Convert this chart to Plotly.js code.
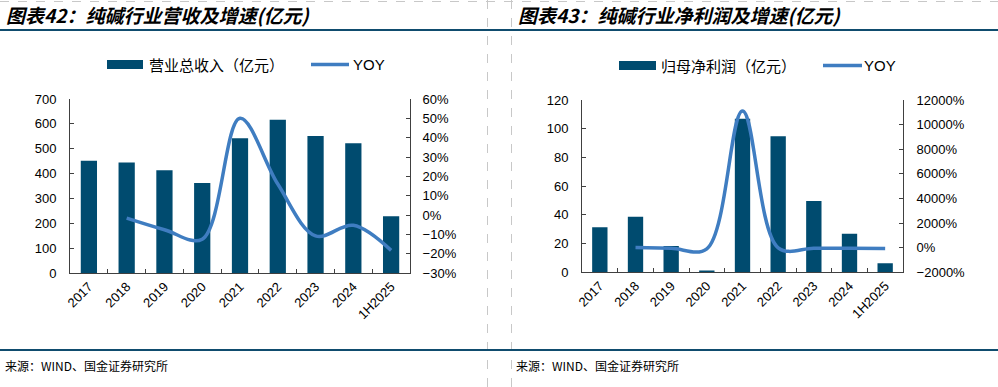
<!DOCTYPE html>
<html>
<head>
<meta charset="utf-8">
<script src="https://cdn.plot.ly/plotly-3.0.1.min.js"></script>
<style>
html,body{margin:0;padding:0;background:#fff;}
#chart{width:998px;height:387px;}
</style>
</head>
<body>
<div id="chart"></div>
<script>
// ---- data ----
const years = ['2017','2018','2019','2020','2021','2022','2023','2024','1H2025'];
const revenue = [452, 445, 413, 362, 542, 617, 551, 522, 228];          // 营业总收入（亿元）
const revenueYoy = [null, -1.6, -7.6, -12.5, 50, 16, -10.8, -5.3, -18.3]; // YOY %
const profit = [31.3, 38.7, 18.3, 1.2, 107, 94.7, 49.7, 26.9, 6.3];      // 归母净利润（亿元）
const profitYoy = [null, 24, -53, -93, 11100, -11.5, -47.5, -46, -76];    // YOY %

const titleLeft = '图表42：纯碱行业营收及增速(亿元)';
const titleRight = '图表43：纯碱行业净利润及增速(亿元)';
const legendBarLeft = '营业总收入（亿元）';
const legendBarRight = '归母净利润（亿元）';
const legendLine = 'YOY';
const sourceText = '来源：WIND、国金证券研究所';

// ---- styling ----
const W = 998, H = 387;
const px = x => x / W;
const py = y => 1 - y / H;
const barColor = '#004B6F';
const lineColor = '#3F7DC1';
const axisColor = '#404040';
const tickFont = {family: 'Liberation Sans, Arial, sans-serif', size: 13, color: '#000'};
const cjk = 'Noto Sans CJK SC, sans-serif';

const traces = [
  {type: 'bar', x: years, y: revenue, xaxis: 'x', yaxis: 'y', marker: {color: barColor}, showlegend: false, hoverinfo: 'skip'},
  {type: 'scatter', mode: 'lines', x: years, y: revenueYoy, xaxis: 'x', yaxis: 'y2',
   line: {color: lineColor, width: 3.5, shape: 'spline', smoothing: 1}, showlegend: false, hoverinfo: 'skip'},
  {type: 'bar', x: years, y: profit, xaxis: 'x2', yaxis: 'y3', marker: {color: barColor}, showlegend: false, hoverinfo: 'skip'},
  {type: 'scatter', mode: 'lines', x: years, y: profitYoy, xaxis: 'x2', yaxis: 'y4',
   line: {color: lineColor, width: 3.5, shape: 'spline', smoothing: 1}, showlegend: false, hoverinfo: 'skip'}
];

const baseAxis = {
  showgrid: false, zeroline: false, showline: true, linecolor: axisColor, linewidth: 1,
  ticks: 'inside', ticklen: 4, tickcolor: axisColor, tickfont: tickFont, fixedrange: true
};

const xBase = Object.assign({}, baseAxis, {type: 'category', tickangle: -45, tickson: 'boundaries'});

const layout = {
  width: W, height: H,
  margin: {l: 0, r: 0, t: 0, b: 0},
  paper_bgcolor: '#fff', plot_bgcolor: 'rgba(0,0,0,0)',
  bargap: 0.57,
  showlegend: false,
  xaxis: Object.assign({}, xBase, {domain: [px(70), px(410)], anchor: 'y'}),
  yaxis: Object.assign({}, baseAxis, {domain: [py(273), py(99)], anchor: 'x', range: [0, 700], dtick: 100, ticklabelstandoff: 10}),
  yaxis2: Object.assign({}, baseAxis, {overlaying: 'y', side: 'right', anchor: 'x', range: [-30, 60], dtick: 10, ticksuffix: '%', ticklabelstandoff: 9}),
  xaxis2: Object.assign({}, xBase, {domain: [px(582), px(903)], anchor: 'y3'}),
  yaxis3: Object.assign({}, baseAxis, {domain: [py(272.3), py(100)], anchor: 'x2', range: [0, 120], dtick: 20, ticklabelstandoff: 10}),
  yaxis4: Object.assign({}, baseAxis, {overlaying: 'y3', side: 'right', anchor: 'x2', range: [-2000, 12000], dtick: 2000, tickformat: 'd', ticksuffix: '%', ticklabelstandoff: 10}),
  shapes: [
    {type: 'line', xref: 'paper', yref: 'paper', x0: 0, x1: 1, y0: py(1.5), y1: py(1.5), line: {color: '#C8C8C8', width: 1, dash: 'dash'}},
    {type: 'line', xref: 'paper', yref: 'paper', x0: px(487.5), x1: px(487.5), y0: 0, y1: 1, line: {color: '#C8C8C8', width: 1, dash: 'dash'}},
    {type: 'line', xref: 'paper', yref: 'paper', x0: px(511.5), x1: px(511.5), y0: 0, y1: 1, line: {color: '#C8C8C8', width: 1, dash: 'dash'}},
    {type: 'line', xref: 'paper', yref: 'paper', x0: 0, x1: 1, y0: py(30), y1: py(30), line: {color: '#0F4C6E', width: 2}},
    {type: 'line', xref: 'paper', yref: 'paper', x0: 0, x1: 1, y0: py(350), y1: py(350), line: {color: '#0F4C6E', width: 2}},
    {type: 'rect', xref: 'paper', yref: 'paper', x0: px(107), x1: px(143), y0: py(69), y1: py(60), fillcolor: barColor, line: {width: 0}},
    {type: 'line', xref: 'paper', yref: 'paper', x0: px(311), x1: px(349), y0: py(64.5), y1: py(64.5), line: {color: lineColor, width: 3.5}},
    {type: 'rect', xref: 'paper', yref: 'paper', x0: px(619), x1: px(656), y0: py(70), y1: py(61), fillcolor: barColor, line: {width: 0}},
    {type: 'line', xref: 'paper', yref: 'paper', x0: px(823), x1: px(862), y0: py(65.5), y1: py(65.5), line: {color: lineColor, width: 3.5}}
  ],
  annotations: [
    {xref: 'paper', yref: 'paper', x: px(4), y: py(15), xanchor: 'left', yanchor: 'middle', showarrow: false,
     text: titleLeft, font: {family: cjk, size: 19, color: '#000', weight: 'bold', style: 'italic'}},
    {xref: 'paper', yref: 'paper', x: px(516), y: py(15), xanchor: 'left', yanchor: 'middle', showarrow: false,
     text: titleRight, font: {family: cjk, size: 19, color: '#000', weight: 'bold', style: 'italic'}},
    {xref: 'paper', yref: 'paper', x: px(147), y: py(64), xanchor: 'left', yanchor: 'middle', showarrow: false,
     text: legendBarLeft, font: {family: cjk, size: 15, color: '#000'}},
    {xref: 'paper', yref: 'paper', x: px(351), y: py(64), xanchor: 'left', yanchor: 'middle', showarrow: false,
     text: legendLine, font: {family: 'Liberation Sans, Arial, sans-serif', size: 15, color: '#000'}},
    {xref: 'paper', yref: 'paper', x: px(659), y: py(65), xanchor: 'left', yanchor: 'middle', showarrow: false,
     text: legendBarRight, font: {family: cjk, size: 15, color: '#000'}},
    {xref: 'paper', yref: 'paper', x: px(862), y: py(65), xanchor: 'left', yanchor: 'middle', showarrow: false,
     text: legendLine, font: {family: 'Liberation Sans, Arial, sans-serif', size: 15, color: '#000'}},
    {xref: 'paper', yref: 'paper', x: px(3), y: py(365), xanchor: 'left', yanchor: 'middle', showarrow: false,
     text: sourceText, font: {family: cjk, size: 12, color: '#000'}},
    {xref: 'paper', yref: 'paper', x: px(514), y: py(365), xanchor: 'left', yanchor: 'middle', showarrow: false,
     text: sourceText, font: {family: cjk, size: 12, color: '#000'}}
  ]
};

Plotly.newPlot('chart', traces, layout, {displayModeBar: false, staticPlot: true});
</script>
</body>
</html>
